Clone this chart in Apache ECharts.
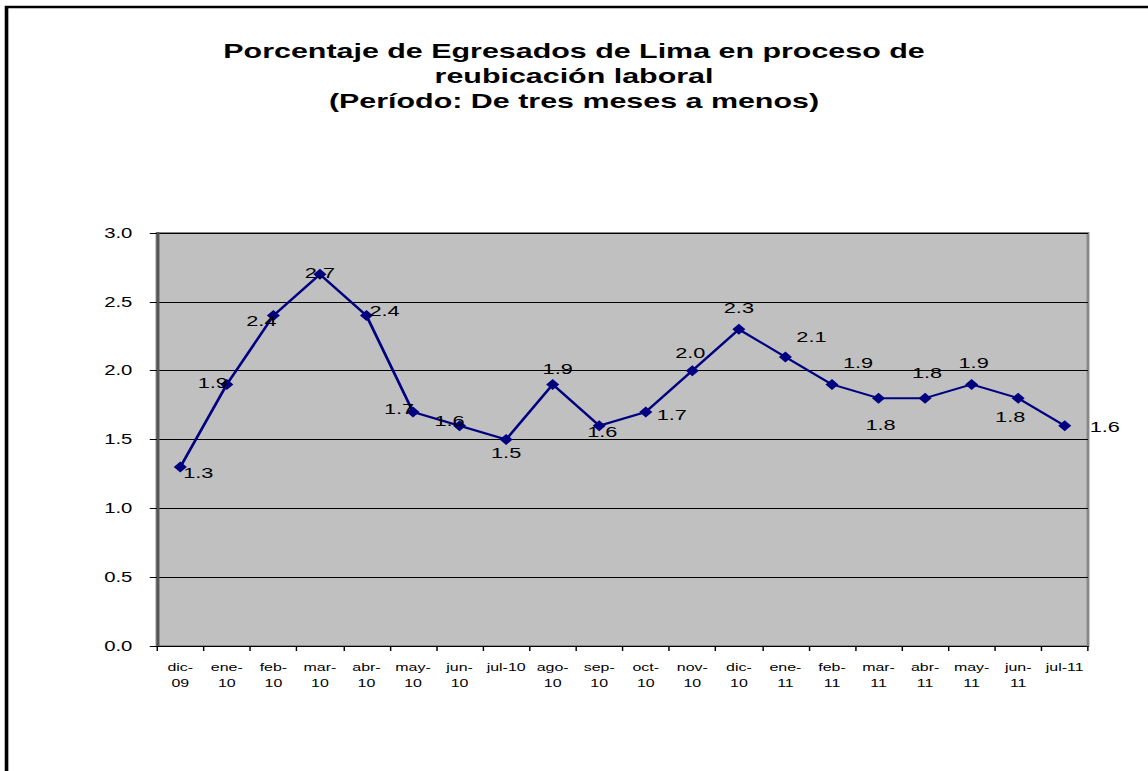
<!DOCTYPE html>
<html>
<head>
<meta charset="utf-8">
<script src="https://cdn.jsdelivr.net/npm/echarts@6/dist/echarts.min.js"></script>
<style>
html,body{margin:0;padding:0;background:#fff;overflow:hidden;width:1148px;height:771px;}
#c{width:792px;height:771px;transform:scaleX(1.4495);transform-origin:0 0;}
</style>
</head>
<body>
<div id="c"></div>
<script>
const categories = ["dic-09","ene-10","feb-10","mar-10","abr-10","may-10","jun-10","jul-10","ago-10","sep-10","oct-10","nov-10","dic-10","ene-11","feb-11","mar-11","abr-11","may-11","jun-11","jul-11"];
const values = [1.3,1.9,2.4,2.7,2.4,1.7,1.6,1.5,1.9,1.6,1.7,2.0,2.3,2.1,1.9,1.8,1.8,1.9,1.8,1.6];
const yTicks = [0,0.5,1.0,1.5,2.0,2.5,3.0];
const titleLines = ["Porcentaje de Egresados de Lima en proceso de","reubicación laboral","(Período: De tres meses a menos)"];

// horizontal stretch of the whole picture (style)
const S = 1148/792;
// label placement (style only): [dx, dy] screen-pixel offsets from point
const labelOffsets = [[18,6],[-14,-2],[-12,5],[0,-2],[18,-5],[-14,-3],[-10,-5],[0,13],[5,-16],[3,6],[26,3],[-2,-18],[0,-22],[26,-20],[26,-22],[2,27],[2,-25],[2,-22],[-8,19],[40,1]];

const chart = echarts.init(document.getElementById('c'), null, {renderer:'svg'});
const data = values.map((v,i)=>({
  value:v,
  label:{offset:[labelOffsets[i][0]/S, labelOffsets[i][1]]}
}));
const FONT = 'Liberation Sans, Arial, sans-serif';
chart.setOption({
  animation:false,
  backgroundColor:'#fff',
  title:{
    text:titleLines.join('\n'),
    left:'center',
    top:33,
    textStyle:{fontFamily:FONT,fontSize:21,fontWeight:'bold',color:'#000',lineHeight:25}
  },
  graphic:[{type:'rect',shape:{x:4.5,y:7,width:1300,height:900},style:{fill:'none',stroke:'#000',lineWidth:2.5},silent:true,z:100}],
  grid:{left:157/S,top:233,right:792-1088/S,bottom:125,show:true,backgroundColor:'#c0c0c0',borderColor:'#888',borderWidth:2},
  xAxis:{
    type:'category',data:categories,boundaryGap:true,
    axisLine:{lineStyle:{color:'#000',width:1}},
    axisTick:{show:true,length:5,alignWithLabel:false,lineStyle:{color:'#000'}},
    axisLabel:{
      interval:0,margin:13,color:'#000',fontFamily:FONT,fontSize:11,lineHeight:16,
      formatter:(s)=> s.startsWith('jul') ? s : s.replace('-','-\n')
    }
  },
  yAxis:{
    type:'value',min:yTicks[0],max:yTicks[yTicks.length-1],interval:yTicks[1]-yTicks[0],
    axisLine:{show:true,lineStyle:{color:'#555',width:2}},
    axisTick:{show:true,length:5,lineStyle:{color:'#000'}},
    splitLine:{lineStyle:{color:'#000',width:1}},
    axisLabel:{margin:17,color:'#000',fontFamily:FONT,fontSize:14,
      formatter:(v)=>v.toFixed(1)}
  },
  series:[{
    type:'line',data:data,
    symbol:'diamond',symbolSize:[9,11],
    lineStyle:{color:'#000080',width:2},
    itemStyle:{color:'#000080'},
    label:{show:true,position:'inside',color:'#000',fontFamily:FONT,fontSize:15,
      formatter:(p)=>p.value.toFixed(1)}
  }]
});
</script>
</body>
</html>
